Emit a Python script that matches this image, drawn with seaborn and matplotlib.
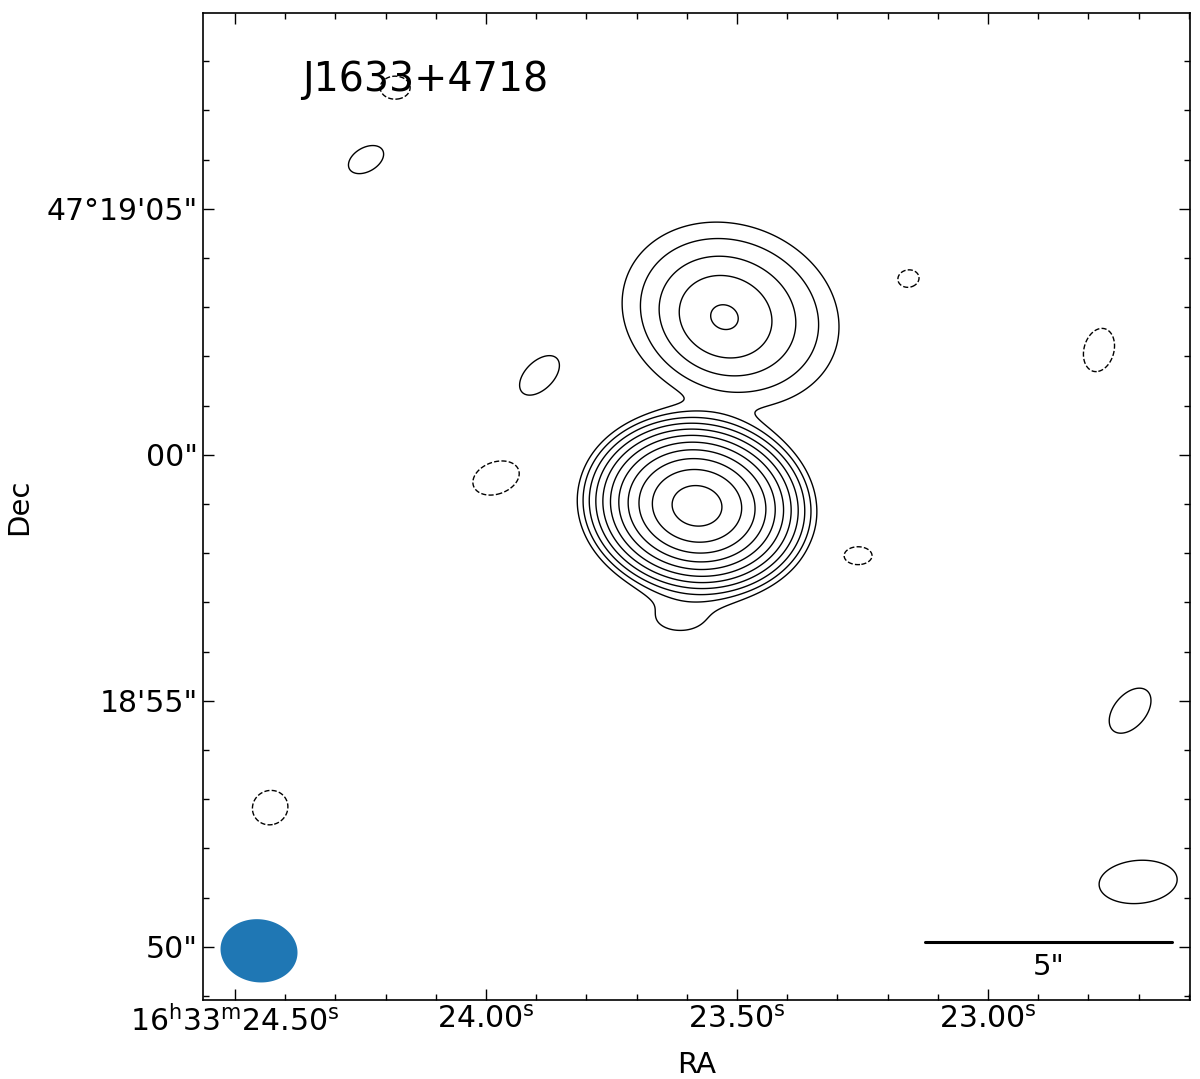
import numpy as np
import matplotlib
matplotlib.use("Agg")
import matplotlib.pyplot as plt
import seaborn as sns

# Gaussian components of the map: RA in seconds past 16h33m, Dec in arcsec past 47d18m
comp_ra = [23.5797, 23.5279, 23.512, 23.6136]
comp_dec = [58.963, 62.784, 62.85, 56.69]
comp_amp = [4200.0, 31.0, 21.0, 3.6]
comp_major = [0.64, 0.62, 1.13, 0.75]   # sigma, arcsec
comp_minor = [0.518, 0.54, 0.92, 0.42]
comp_angle = [-8, -25, -20, 0]          # deg

# noise peaks (each gives one +/-3 sigma contour)
noise_ra = [24.181, 24.239, 23.894, 23.980, 23.159, 22.779, 23.259, 22.717, 22.701, 24.430]
noise_dec = [67.46, 66.00, 61.61, 59.53, 63.58, 62.13, 57.95, 54.80, 51.32, 52.83]
noise_amp = [-4, 4, 4, -4, -4, -4, -4, 4, 4, -4]
noise_major = [0.40, 0.51, 0.64, 0.64, 0.295, 0.59, 0.375, 0.70, 1.045, 0.48]
noise_minor = [0.31, 0.32, 0.375, 0.43, 0.24, 0.40, 0.24, 0.43, 0.576, 0.455]
noise_angle = [0, 30, 45, 20, 10, 75, 0, 50, 5, 30]

rms = 1.0
levels = [-3 * rms] + [3 * rms * 2 ** k for k in range(11)]

# restoring beam (FWHM arcsec, position angle in deg) and its drawing position
beam_major, beam_minor, beam_angle = 1.565, 1.28, -8
beam_ra, beam_dec = 24.4522, 49.92

xticks = [24.5, 24.0, 23.5, 23.0]
xticklabels = [r"16$^{\rm h}$33$^{\rm m}$24.50$^{\rm s}$", r"24.00$^{\rm s}$",
               r"23.50$^{\rm s}$", r"23.00$^{\rm s}$"]
yticks = [50, 55, 60, 65]
yticklabels = ['50"', "18'55\"", '00"', "47\u00b019'05\""]

dec0 = 47.3
scale = 15 * np.cos(np.deg2rad(dec0))  # arcsec per second of RA

sns.set_style("ticks")
plt.rcParams['font.family'] = ['DejaVu Sans']
plt.rcParams.update({'text.color': 'black', 'axes.labelcolor': 'black',
                     'xtick.color': 'black', 'ytick.color': 'black',
                     'axes.edgecolor': 'black'})

ra = np.linspace(22.55, 24.62, 900)
dec = np.linspace(48.5, 69.5, 900)
RA, DEC = np.meshgrid(ra, dec)


def gauss(ra_c, dec_c, amp, smaj, smin, ang):
    du = -(RA - ra_c) * scale
    dv = DEC - dec_c
    t = np.deg2rad(ang)
    a = du * np.cos(t) + dv * np.sin(t)
    b = -du * np.sin(t) + dv * np.cos(t)
    return amp * np.exp(-0.5 * (a ** 2 / smaj ** 2 + b ** 2 / smin ** 2))


image = np.zeros_like(RA)
for p in zip(comp_ra, comp_dec, comp_amp, comp_major, comp_minor, comp_angle):
    image += gauss(*p)
for p in zip(noise_ra, noise_dec, noise_amp, noise_major, noise_minor, noise_angle):
    image += gauss(*p)

fig = plt.figure(figsize=(12, 10.79), dpi=100)
ax = fig.add_axes([0.1692, 0.0732, 0.8225, 0.9148])

ax.contour(RA, DEC, image, levels=levels, colors='black', linewidths=1.0,
           negative_linestyles='dashed')

# beam ellipse
th = np.linspace(0, 2 * np.pi, 200)
t = np.deg2rad(beam_angle)
bu = beam_major / 2 * np.cos(th)
bv = beam_minor / 2 * np.sin(th)
eu = bu * np.cos(t) - bv * np.sin(t)
ev = bu * np.sin(t) + bv * np.cos(t)
ax.fill(beam_ra - eu / scale, beam_dec + ev, color='#1f77b4', lw=0)

# 5 arcsec scale bar
bar_right = 22.634
bar_dec = 50.10
ax.plot([bar_right + 5 / scale, bar_right], [bar_dec, bar_dec], color='black', lw=2.2)
ax.text(bar_right + 2.5 / scale, bar_dec - 0.5, '5"', fontsize=21, ha='center', va='center')

ax.text(0.1003, 0.932, 'J1633+4718', transform=ax.transAxes, fontsize=28.5,
        ha='left', va='center')

ax.set_xticks(xticks)
ax.set_xticklabels(xticklabels)
ax.set_xticks(np.arange(22.6, 24.61, 0.1), minor=True)
ax.set_yticks(yticks)
ax.set_yticklabels(yticklabels)
ax.set_yticks(np.arange(49, 69), minor=True)
ax.set_xlim(24.5637, 22.5976)
ax.set_ylim(48.92, 68.98)
ax.tick_params(which='both', direction='in', top=True, right=True, width=1.0)
ax.tick_params(which='major', length=8, labelsize=21.5)
ax.tick_params(which='minor', length=4)
for s in ax.spines.values():
    s.set_linewidth(1.2)

ax.set_xlabel('RA', fontsize=21, labelpad=10)
ax.set_ylabel('Dec', fontsize=21, labelpad=10)

fig.savefig('out.png', dpi=100)
